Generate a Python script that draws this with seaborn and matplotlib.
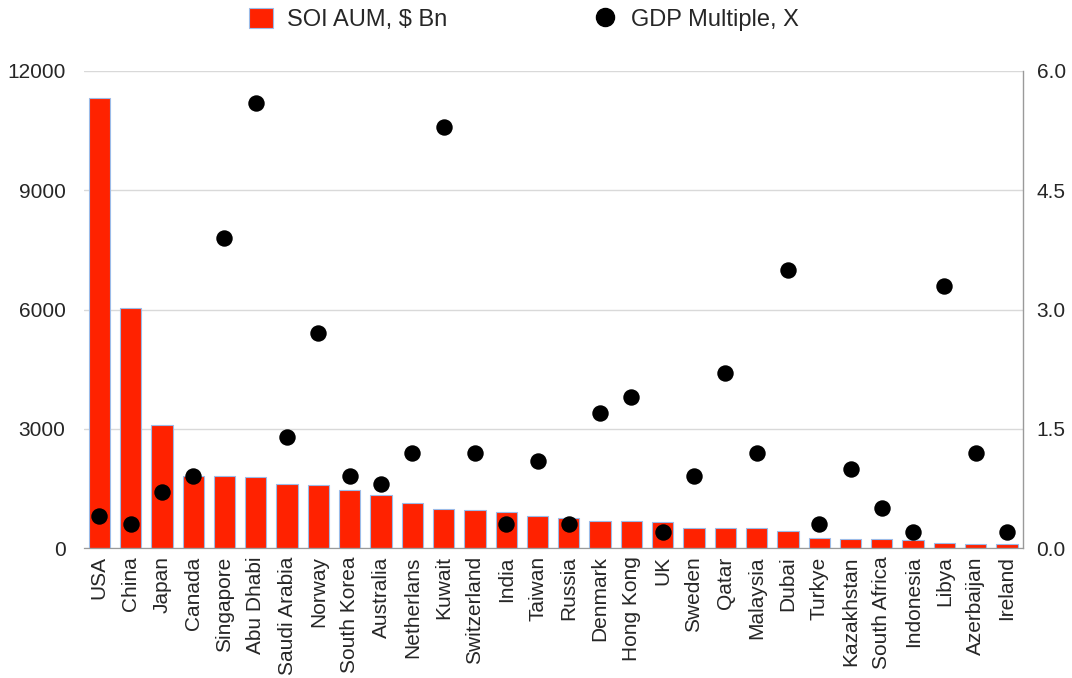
import numpy as np
import pandas as pd
import matplotlib
matplotlib.use("Agg")
import matplotlib.pyplot as plt
from matplotlib.lines import Line2D
from matplotlib.patches import Patch
import seaborn as sns

countries = ["USA", "China", "Japan", "Canada", "Singapore", "Abu Dhabi",
             "Saudi Arabia", "Norway", "South Korea", "Australia", "Netherlans",
             "Kuwait", "Switzerland", "India", "Taiwan", "Russia", "Denmark",
             "Hong Kong", "UK", "Sweden", "Qatar", "Malaysia", "Dubai", "Turkye",
             "Kazakhstan", "South Africa", "Indonesia", "Libya", "Azerbaijan",
             "Ireland"]
aum_bn = [11330, 6050, 3090, 1820, 1800, 1780, 1600, 1585, 1450, 1335, 1145,
          980, 955, 895, 800, 745, 690, 670, 645, 510, 495, 500, 420, 260,
          225, 222, 200, 135, 90, 90]
gdp_multiple = [0.4, 0.3, 0.7, 0.9, 3.9, 5.6, 1.4, 2.7, 0.9, 0.8, 1.2, 5.3,
                1.2, 0.3, 1.1, 0.3, 1.7, 1.9, 0.2, 0.9, 2.2, 1.2, 3.5, 0.3,
                1.0, 0.5, 0.2, 3.3, 1.2, 0.2]
left_ticks = [0, 3000, 6000, 9000, 12000]
right_ticks = [0.0, 1.5, 3.0, 4.5, 6.0]

df = pd.DataFrame({"country": countries, "aum": aum_bn,
                   "gdp": gdp_multiple, "pos": np.arange(len(countries))})

sns.set_style("white")
plt.rcParams["font.family"] = ["Liberation Sans", "DejaVu Sans"]

bar_color = "#ff2200"
edge_color = "#9bbbe8"

fig = plt.figure(figsize=(10.72, 6.78), dpi=100)
ax = fig.add_axes([0.078, 0.1917, 0.876, 0.7036])

sns.barplot(data=df, x="country", y="aum", color=bar_color, saturation=1,
            width=0.68, edgecolor=edge_color, linewidth=0.8, ax=ax, zorder=2)
ax.set_xlim(-0.5, len(countries) - 0.5)
ax.set_ylim(0, 12000)
ax.set_yticks(left_ticks)
ax.set_yticklabels([str(t) for t in left_ticks])
ax.yaxis.grid(True, color="#d9d9d9", linewidth=1.0, zorder=0)
ax.set_axisbelow(True)
ax.set_xlabel("")
ax.set_ylabel("")
ax.tick_params(axis="y", length=0, pad=13, labelsize=15)
ax.tick_params(axis="x", length=0, pad=6, labelsize=15, rotation=90)

ax2 = ax.twinx()
sns.scatterplot(data=df, x="pos", y="gdp", color="black", s=140,
                edgecolor="black", linewidth=0, ax=ax2, zorder=3, legend=False)
ax2.set_ylim(0, 6.0)
ax2.set_yticks(right_ticks)
ax2.set_yticklabels([f"{t:.1f}" for t in right_ticks])
ax2.tick_params(axis="y", length=0, pad=10, labelsize=15)
ax2.set_ylabel("")
ax2.set_xlim(-0.5, len(countries) - 0.5)

for a in (ax, ax2):
    a.spines["top"].set_visible(False)
    a.spines["left"].set_visible(False)
    a.spines["right"].set_visible(False)
    a.spines["bottom"].set_color("#9a9a9a")
ax2.spines["right"].set_visible(True)
ax2.spines["right"].set_color("#9a9a9a")
ax2.spines["right"].set_linewidth(1.0)

handles = [
    Patch(facecolor=bar_color, edgecolor=edge_color, linewidth=0.8,
          label="SOI AUM, $ Bn"),
    Line2D([0], [0], marker="o", linestyle="none", color="black",
           markersize=13, label="GDP Multiple, X"),
]
fig.legend(handles=handles, loc="upper center", bbox_to_anchor=(0.489, 1.02),
           ncol=2, frameon=False, fontsize=17, columnspacing=6.2,
           handlelength=1.0, handleheight=0.95, handletextpad=0.6)

fig.savefig("out.png", dpi=100)
